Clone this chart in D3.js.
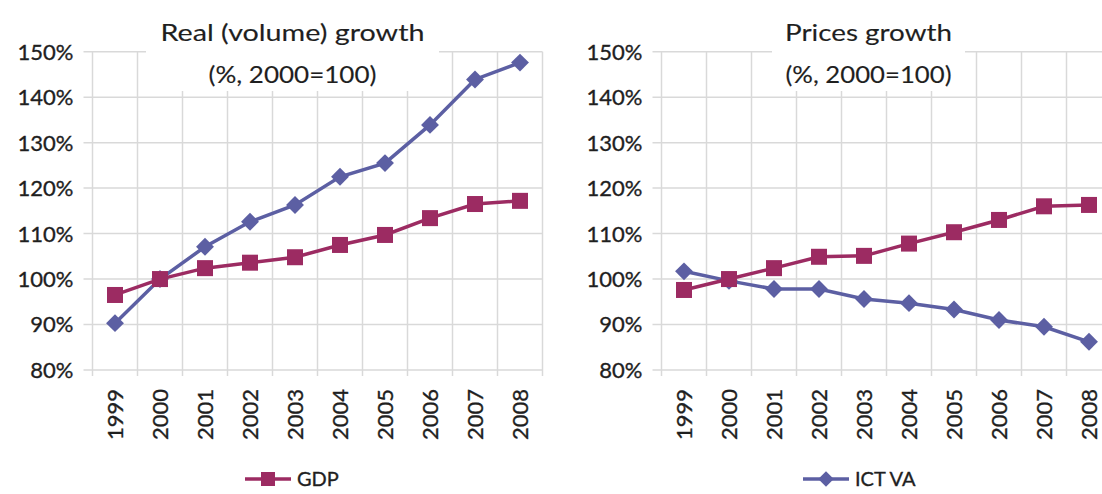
<!DOCTYPE html>
<html><head><meta charset="utf-8">
<script src="https://cdn.jsdelivr.net/npm/d3@7"></script>
<style>
html,body{margin:0;padding:0;background:#fff;}
svg{display:block;font-family:Lato,"Open Sans",sans-serif;}
svg text{fill:#1f1f1f;stroke:#1f1f1f;stroke-width:0.35px;}
svg text.title{stroke-width:0.15px;}
</style></head>
<body><svg id="c" width="1102" height="494"></svg>
<script>
const years = ["1999","2000","2001","2002","2003","2004","2005","2006","2007","2008"];
const yTicks = [80,90,100,110,120,130,140,150];
const realGDP = [96.5,100,102.4,103.6,104.8,107.5,109.7,113.4,116.5,117.2];
const realICT = [90.3,100,107.1,112.6,116.3,122.5,125.5,133.9,143.9,147.6];
const priceGDP = [97.6,100,102.4,104.9,105.1,107.8,110.3,113.0,116.0,116.3];
const priceICT = [101.7,99.6,97.8,97.8,95.6,94.7,93.3,91.0,89.5,86.2];
const titles = [["Real (volume) growth","(%, 2000=100)"],["Prices growth","(%, 2000=100)"]];
const seriesNames = ["GDP","ICT VA"];
const colGDP = "#9c2b62", colICT = "#5c5fa3";

const svg = d3.select("#c");
const y = d3.scaleLinear().domain([80,150]).range([370,51.7]);

function panel(x0, x1, gdp, ict, title, box, tLen){
  const x = d3.scaleBand().domain(years).range([x0,x1]).padding(0);
  const g = svg.append("g");
  g.append("g").selectAll("line").data(yTicks).join("line")
    .attr("x1", x0-9).attr("x2", x1).attr("y1", d=>y(d)).attr("y2", d=>y(d))
    .attr("stroke","#d9d9d9").attr("stroke-width",1.5);
  const bounds = years.map(d=>x(d)).concat([x1]);
  g.append("g").selectAll("line").data(bounds).join("line")
    .attr("x1", d=>d).attr("x2", d=>d).attr("y1", y(150)).attr("y2", y(80)+6)
    .attr("stroke","#d9d9d9").attr("stroke-width",1.5);
  g.append("rect").attr("x",box[0]).attr("y",0).attr("width",box[1]-box[0]).attr("height",91).attr("fill","#fff");
  const cxT = (box[0]+box[1])/2;
  g.append("text").attr("class","title").attr("x",cxT).attr("y",41).attr("text-anchor","middle")
    .attr("font-size",24).attr("textLength",tLen[0]).attr("lengthAdjust","spacingAndGlyphs").text(title[0]);
  g.append("text").attr("class","title").attr("x",cxT).attr("y",83).attr("text-anchor","middle")
    .attr("font-size",24).attr("textLength",tLen[1]).attr("lengthAdjust","spacingAndGlyphs").text(title[1]);
  g.append("g").selectAll("text").data(yTicks).join("text")
    .attr("x", x0-19).attr("y", d=>y(d)).attr("dy","0.36em").attr("text-anchor","end")
    .attr("font-size",22).text(d=>d+"%");
  g.append("g").selectAll("text").data(years).join("text")
    .attr("transform", d=>`translate(${x(d)+x.bandwidth()/2+8},389) rotate(-90)`)
    .attr("text-anchor","end").attr("font-size",22).text(d=>d);
  const cx = (d,i)=>x(years[i])+x.bandwidth()/2;
  const line = d3.line().x((d,i)=>cx(d,i)).y(d=>y(d));
  g.append("path").attr("d",line(ict)).attr("fill","none").attr("stroke",colICT).attr("stroke-width",3.5);
  g.append("g").selectAll("path").data(ict).join("path")
    .attr("d", d3.symbol(d3.symbolSquare, 160))
    .attr("transform",(d,i)=>`translate(${cx(d,i)},${y(d)}) rotate(45)`).attr("fill",colICT);
  g.append("path").attr("d",line(gdp)).attr("fill","none").attr("stroke",colGDP).attr("stroke-width",3.5);
  g.append("g").selectAll("rect").data(gdp).join("rect")
    .attr("x",(d,i)=>cx(d,i)-8).attr("y",d=>y(d)-8).attr("width",16).attr("height",16).attr("fill",colGDP);
}
panel(92.5, 542.5, realGDP, realICT, titles[0], [146,439], [264,168]);
panel(661.5, 1111.5, priceGDP, priceICT, titles[1], [772,965], [167,166]);

function legend(xl, name, col, diamond){
  const g = svg.append("g");
  g.append("line").attr("x1",xl).attr("x2",xl+46).attr("y1",479).attr("y2",479).attr("stroke",col).attr("stroke-width",3.5);
  if(diamond){
    g.append("path").attr("d",d3.symbol(d3.symbolSquare,120)()).attr("transform",`translate(${xl+23},479) rotate(45)`).attr("fill",col);
  } else {
    g.append("rect").attr("x",xl+23-7).attr("y",472).attr("width",14).attr("height",14).attr("fill",col);
  }
  g.append("text").attr("x",xl+52).attr("y",479).attr("dy","0.36em").attr("font-size",20).text(name);
}
legend(245, seriesNames[0], colGDP, false);
legend(803, seriesNames[1], colICT, true);
</script></body></html>
